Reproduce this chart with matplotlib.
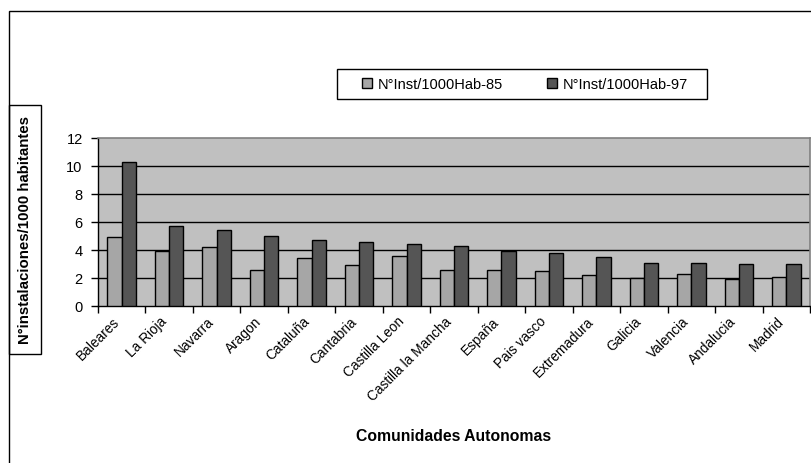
import matplotlib
matplotlib.use("Agg")
import matplotlib.pyplot as plt
from matplotlib.patches import Rectangle
import numpy as np

plt.rcParams['font.family'] = ['Liberation Sans', 'DejaVu Sans']

categories = ["Baleares", "La Rioja", "Navarra", "Aragon", "Cataluña", "Cantabria",
              "Castilla Leon", "Castilla la Mancha", "España", "Pais vasco",
              "Extremadura", "Galicia", "Valencia", "Andalucia", "Madrid"]
inst_85 = [4.9, 3.9, 4.2, 2.6, 3.4, 2.9, 3.6, 2.6, 2.6, 2.5, 2.2, 2.0, 2.3, 1.9, 2.1]
inst_97 = [10.3, 5.7, 5.4, 5.0, 4.7, 4.6, 4.4, 4.3, 3.9, 3.8, 3.5, 3.1, 3.1, 3.0, 3.0]
series_names = ["N°Inst/1000Hab-85", "N°Inst/1000Hab-97"]
yticks = [0, 2, 4, 6, 8, 10, 12]

W, H = 811, 464
fig = plt.figure(figsize=(W / 100, H / 100), dpi=100)

# outer chart frame
fig.patches.append(Rectangle((9 / W, -0.1), 1.2, 1 - 12 / H + 0.1, transform=fig.transFigure,
                             fill=False, edgecolor='black', linewidth=1.0))

ax = fig.add_axes([98 / W, 1 - 307 / H, (810 - 98) / W, (307 - 139) / H])
ax.set_facecolor('#C0C0C0')

n = len(categories)
x = np.arange(n)
bw = 0.3
b1 = ax.bar(x - bw / 2, inst_85, width=bw, color='#A6A6A6', edgecolor='black', linewidth=1.0,
            label=series_names[0], zorder=3)
b2 = ax.bar(x + bw / 2, inst_97, width=bw, color='#555555', edgecolor='black', linewidth=1.0,
            label=series_names[1], zorder=3)

ax.set_xlim(-0.5, n - 0.5)
ax.set_ylim(0, 12)
ax.set_yticks(yticks)
ax.set_yticklabels([str(v) for v in yticks], fontsize=10.5)
for v in yticks[1:-1]:
    ax.axhline(v, color='black', linewidth=1.0, zorder=1)

ax.set_xticks(np.arange(n + 1) - 0.5)
ax.set_xticklabels([])
ax.tick_params(axis='x', direction='out', length=5, width=1)
ax.tick_params(axis='y', direction='out', length=5, width=1, pad=6)

for i, c in enumerate(categories):
    ax.text(i - 0.2, -0.55, c, rotation=45, ha='right', va='top', fontsize=9.8,
            rotation_mode='anchor', transform=ax.transData)

for s in ['top', 'right']:
    ax.spines[s].set_color('#808080')
    ax.spines[s].set_linewidth(1.2)
for s in ['left', 'bottom']:
    ax.spines[s].set_color('black')
    ax.spines[s].set_linewidth(1.0)

# legend
leg = fig.legend(handles=[b1.patches[0], b2.patches[0]],
                 labels=series_names, loc='center', bbox_to_anchor=(525 / W, 1 - 85 / H),
                 ncol=2, frameon=False, fontsize=10.5, handlelength=0.7, handleheight=0.7,
                 handletextpad=0.4, columnspacing=3.0, borderpad=0.3)
fig.patches.append(Rectangle((337 / W, 1 - 100 / H), (707 - 337) / W, 30 / H,
                             transform=fig.transFigure, fill=False, edgecolor='black',
                             linewidth=1.0))

# y label box
fig.patches.append(Rectangle((9 / W, 1 - 355 / H), 32 / W, 249 / H, transform=fig.transFigure,
                             fill=False, edgecolor='black', linewidth=1.0))
fig.text(25 / W, 1 - 230 / H, "N°instalaciones/1000 habitantes", rotation=90, ha='center',
         va='center', fontsize=10.8, fontweight='bold')

fig.text(454 / W, 1 - 437 / H, "Comunidades Autonomas", ha='center', va='center',
         fontsize=11.3, fontweight='bold')

fig.savefig('out.png', dpi=100)
